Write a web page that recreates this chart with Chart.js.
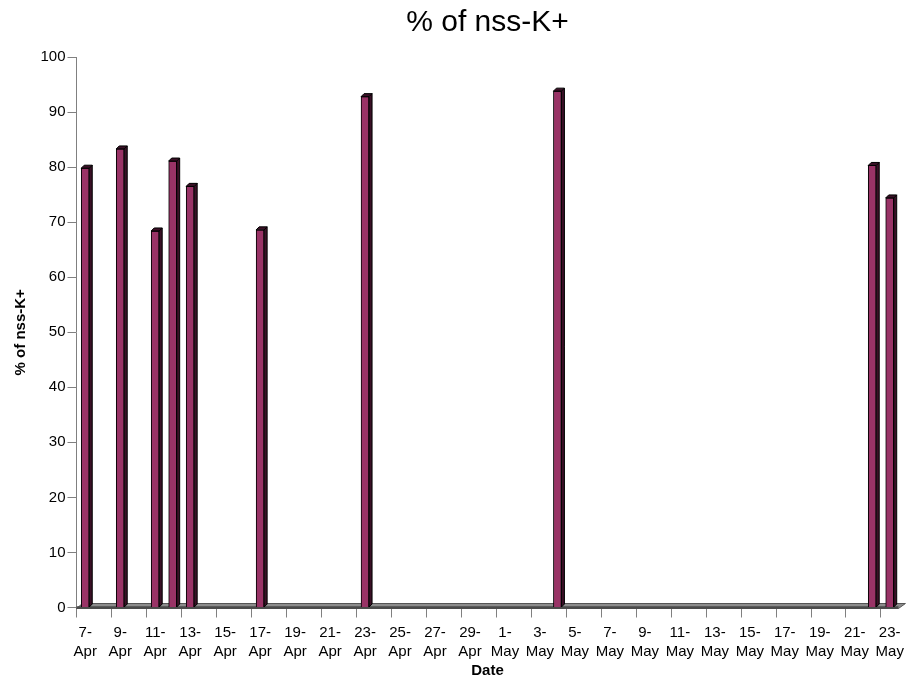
<!DOCTYPE html>
<html>
<head>
<meta charset="utf-8">
<title>% of nss-K+</title>
<script src="https://cdn.jsdelivr.net/npm/chart.js@4"></script>
<style>
  html, body { margin: 0; padding: 0; background: #fff; }
  #wrap { width: 910px; height: 681px; }
</style>
</head>
<body>
<div id="wrap"><canvas id="chart-nssk"></canvas></div>
<script>
// daily sampling dates, 7 Apr - 23 May
const datas = [
  "7-Apr", "8-Apr", "9-Apr", "10-Apr", "11-Apr", "12-Apr", "13-Apr", "14-Apr",
  "15-Apr", "16-Apr", "17-Apr", "18-Apr", "19-Apr", "20-Apr", "21-Apr", "22-Apr",
  "23-Apr", "24-Apr", "25-Apr", "26-Apr", "27-Apr", "28-Apr", "29-Apr", "30-Apr",
  "1-May", "2-May", "3-May", "4-May", "5-May", "6-May", "7-May", "8-May",
  "9-May", "10-May", "11-May", "12-May", "13-May", "14-May", "15-May", "16-May",
  "17-May", "18-May", "19-May", "20-May", "21-May", "22-May", "23-May",
];

// % of nss-K+ (null = no sample that day)
const nssK = [
  79.8, null, 83.3, null, 68.4, 81.1, 76.5, null,
  null, null, 68.6, null, null, null, null, null,
  92.8, null, null, null, null, null, null, null,
  null, null, null, 93.8, null, null, null, null,
  null, null, null, null, null, null, null, null,
  null, null, null, null, null, 80.3, 74.4,
];

const yTicks = [0, 10, 20, 30, 40, 50, 60, 70, 80, 90, 100];

const FONTE = "'Liberation Sans', Arial, sans-serif";
const COR_BARRA = "#993366";
const COR_LADO = "#3a1026";
const COR_EIXO = "#808080";

// gray 3D floor under the bars
const pisoPlugin = {
  id: "piso",
  beforeDatasetsDraw(chart) {
    const { ctx, chartArea } = chart;
    const base = chart.scales.y.getPixelForValue(0);
    const l = chartArea.left, r = chartArea.right;
    ctx.save();
    ctx.beginPath();
    ctx.moveTo(l, base + 1);
    ctx.lineTo(l + 6, base - 4);
    ctx.lineTo(r + 7, base - 4);
    ctx.lineTo(r, base + 1);
    ctx.closePath();
    ctx.fillStyle = "#8c8c8c";
    ctx.fill();
    ctx.strokeStyle = "#555";
    ctx.lineWidth = 1;
    ctx.stroke();
    ctx.beginPath();
    ctx.moveTo(l, base);
    ctx.lineTo(r, base);
    ctx.lineWidth = 2.5;
    ctx.strokeStyle = "#4a4a4a";
    ctx.stroke();
    ctx.restore();
  },
};

// side and top faces that give each column its depth
const colunas3d = {
  id: "colunas3d",
  afterDatasetsDraw(chart) {
    const { ctx } = chart;
    const d = 3;
    const meta = chart.getDatasetMeta(0);
    meta.data.forEach((bar, i) => {
      if (nssK[i] == null) return;
      const { x, y, base, width } = bar.getProps(["x", "y", "base", "width"], true);
      const esq = x - width / 2;
      const dir = x + width / 2;
      ctx.save();
      ctx.fillStyle = COR_LADO;
      ctx.strokeStyle = "#000";
      ctx.lineWidth = 1;
      ctx.beginPath();
      ctx.moveTo(dir, y);
      ctx.lineTo(dir + d, y - d);
      ctx.lineTo(dir + d, base - d);
      ctx.lineTo(dir, base);
      ctx.closePath();
      ctx.fill();
      ctx.stroke();
      ctx.beginPath();
      ctx.moveTo(esq, y);
      ctx.lineTo(esq + d, y - d);
      ctx.lineTo(dir + d, y - d);
      ctx.lineTo(dir, y);
      ctx.closePath();
      ctx.fill();
      ctx.stroke();
      ctx.restore();
    });
  },
};

new Chart(document.getElementById("chart-nssk"), {
  type: "bar",
  data: {
    labels: datas,
    datasets: [{
      label: "% of nss-K+",
      data: nssK,
      backgroundColor: COR_BARRA,
      borderColor: "#000",
      borderWidth: 1,
      barThickness: 8,
    }],
  },
  plugins: [pisoPlugin, colunas3d],
  options: {
    responsive: true,
    maintainAspectRatio: false,
    animation: false,
    layout: { padding: { left: 0, right: 10.5, top: 0, bottom: 0 } },
    plugins: {
      legend: { display: false },
      tooltip: { enabled: false },
      title: {
        display: true,
        text: "% of nss-K+",
        color: "#000",
        fullSize: false,
        font: { family: FONTE, size: 30, weight: "normal" },
        padding: { top: 5, bottom: 16 },
      },
    },
    scales: {
      x: {
        offset: true,
        afterFit: (s) => { s.height = 73.5; },
        border: { display: false },
        grid: {
          offset: true,
          drawOnChartArea: false,
          drawTicks: true,
          tickLength: 10,
          color: (c) => (c.index !== undefined && c.index % 2 === 0 ? COR_EIXO : "transparent"),
        },
        ticks: {
          autoSkip: false,
          maxRotation: 0,
          minRotation: 0,
          padding: 6,
          color: "#000",
          font: { family: FONTE, size: 15, lineHeight: 1.27 },
          callback: (v, i) => {
            if (i % 2 !== 0) return "";
            const [dia, mes] = datas[i].split("-");
            return [dia + "-", mes];
          },
        },
        title: {
          display: true,
          text: "Date",
          color: "#000",
          font: { family: FONTE, size: 15, weight: "bold" },
          padding: { top: 0, bottom: 1 },
        },
      },
      y: {
        min: 0,
        max: 100,
        afterFit: (s) => { s.width = 76.5; },
        afterBuildTicks: (s) => { s.ticks = yTicks.map((v) => ({ value: v })); },
        border: { display: true, color: COR_EIXO, width: 1 },
        grid: {
          drawOnChartArea: false,
          drawTicks: true,
          tickLength: 9,
          color: COR_EIXO,
        },
        ticks: {
          padding: 2,
          color: "#000",
          font: { family: FONTE, size: 15 },
        },
        title: {
          display: true,
          text: "% of nss-K+",
          color: "#000",
          font: { family: FONTE, size: 15, weight: "bold" },
          padding: { top: 12, bottom: 0 },
        },
      },
    },
  },
});
</script>
</body>
</html>
